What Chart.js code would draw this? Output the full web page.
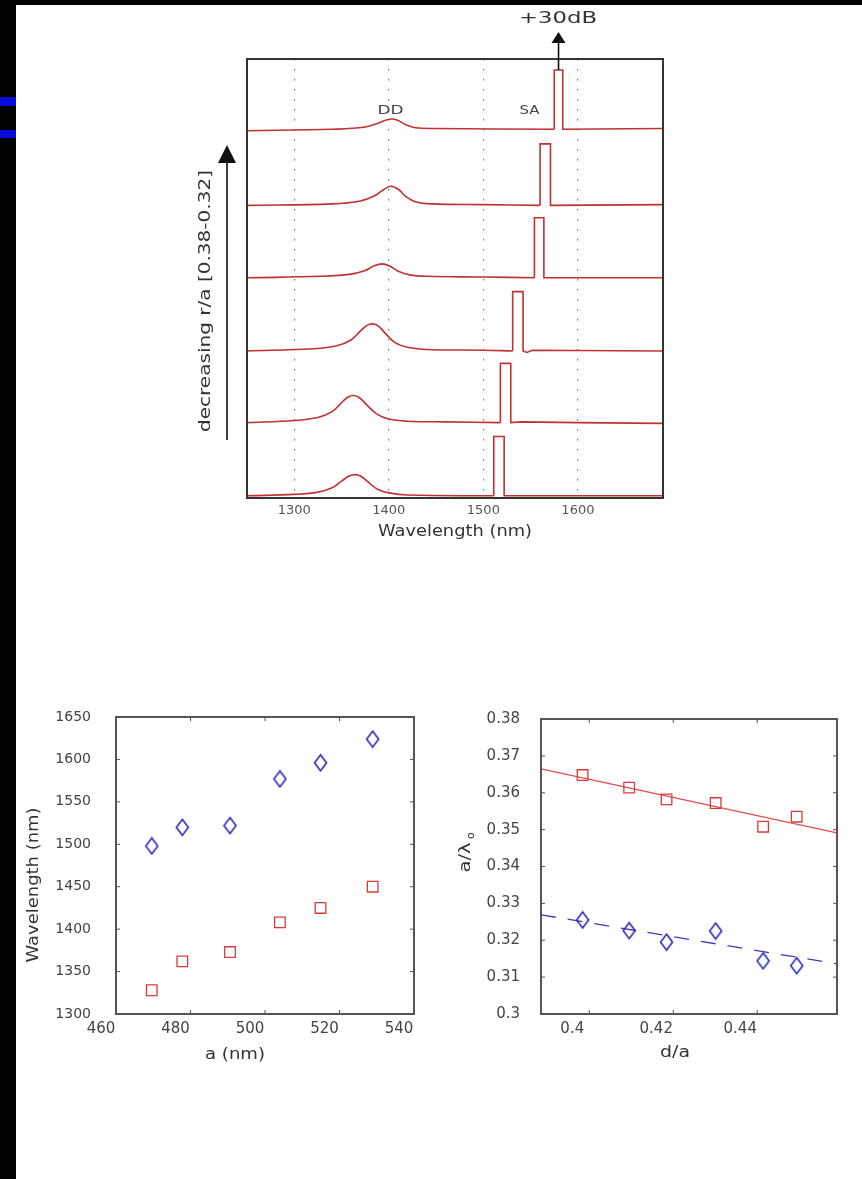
<!DOCTYPE html>
<html>
<head>
<meta charset="utf-8">
<script src="https://cdn.jsdelivr.net/npm/chart.js@4.4.1/dist/chart.umd.min.js"></script>
<style>
body { margin: 0; background: #fff; width: 862px; height: 1179px; overflow: hidden; position: relative; }
canvas { position: absolute; left: 0; top: 0; }
.strip { position: absolute; background: #000; }
.blue { position: absolute; left: 0; width: 16px; background: #0a0ad6; }
</style>
</head>
<body>
<div class="strip" style="left:0;top:0;width:16px;height:1179px"></div>
<div class="strip" style="left:0;top:0;width:862px;height:5px"></div>
<div class="blue" style="top:97px;height:9px"></div>
<div class="blue" style="top:130px;height:8px"></div>
<canvas id="spectra" width="862" height="1179"></canvas>
<canvas id="lattice" width="862" height="1179"></canvas>
<canvas id="norm" width="862" height="1179"></canvas>
<script>
// --- top panel: transmission spectra, bottom (r/a = 0.38) to top (r/a = 0.32)
// each trace: [wavelength nm, intensity above its own baseline]
var traceOffsets = [0.03, 1.03, 2.01, 3.01, 4.0, 5.04];
var spectra = [
  [[1250,0],[1300,0.02],[1325,0.05],[1340,0.11],[1350,0.2],[1358,0.27],[1364,0.29],[1370,0.27],[1378,0.19],[1388,0.09],[1400,0.04],[1420,0.01],[1511,0],[1511,0.81],[1522,0.81],[1522,0],[1600,0],[1690,0]],
  [[1250,0],[1300,0.03],[1325,0.07],[1340,0.15],[1349,0.26],[1357,0.35],[1363,0.37],[1369,0.34],[1377,0.24],[1387,0.12],[1400,0.05],[1420,0.02],[1460,0.01],[1518,0],[1518,0.81],[1529,0.81],[1529,0],[1540,0.01],[1600,0],[1690,-0.01]],
  [[1250,0],[1320,0.03],[1345,0.07],[1360,0.15],[1369,0.26],[1377,0.35],[1383,0.37],[1389,0.34],[1397,0.23],[1407,0.11],[1420,0.05],[1440,0.02],[1500,0.01],[1531,0],[1531,0.81],[1542,0.81],[1542,0],[1546,-0.02],[1552,0.01],[1690,0]],
  [[1250,0],[1330,0.02],[1360,0.05],[1375,0.1],[1384,0.16],[1393,0.19],[1401,0.16],[1410,0.09],[1422,0.04],[1440,0.02],[1500,0.01],[1554,0],[1554,0.82],[1564,0.82],[1564,0],[1690,0]],
  [[1250,0],[1340,0.02],[1370,0.06],[1385,0.13],[1394,0.21],[1402,0.26],[1410,0.22],[1418,0.12],[1428,0.05],[1445,0.02],[1500,0.01],[1560,0],[1560,0.84],[1571,0.84],[1571,0],[1690,0.01]],
  [[1250,-0.02],[1340,0],[1375,0.03],[1390,0.09],[1398,0.13],[1404,0.14],[1410,0.12],[1418,0.06],[1428,0.02],[1450,0.01],[1575,0],[1575,0.81],[1584,0.81],[1584,0],[1690,0.01]]
];
var ddLabelAt = 1404, saLabelAt = 1552, saArrowAt = 1579.5;

// --- bottom left: peak wavelength vs lattice constant
var latticeA = [469.6, 477.8, 490.6, 504.0, 514.9, 528.9];
var saWavelength = [1498, 1520, 1522, 1577, 1596, 1624];
var ddWavelength = [1328, 1362, 1373, 1408, 1425, 1450];

// --- bottom right: normalised frequency vs d/a
var fillRatio = [0.3984, 0.4095, 0.4184, 0.4301, 0.4414, 0.4494];
var ddNorm = [0.3648, 0.3614, 0.3582, 0.3572, 0.3508, 0.3535];
var saNorm = [0.3255, 0.3226, 0.3195, 0.3225, 0.3144, 0.3131];
var fitRatio = [0.3885, 0.459];
var ddFit = [0.3665, 0.3491];
var saFit = [0.3269, 0.3136];

var RED = '#d43c3c', BLUE = '#2828b4', FONT = 'DejaVu Sans';

function txt(ctx, text, x, y, size, width, rot, color) {
  ctx.save();
  ctx.font = size + 'px "' + FONT + '"';
  var sx = width / ctx.measureText(text).width;
  ctx.translate(x, y);
  if (rot) ctx.rotate(rot);
  ctx.scale(sx, 1);
  ctx.fillStyle = color || '#333';
  ctx.textAlign = 'center';
  ctx.textBaseline = 'middle';
  ctx.fillText(text, 0, 0);
  ctx.restore();
}

function arrowUp(ctx, x, yTip, yBase, yEnd, halfW) {
  ctx.save();
  ctx.strokeStyle = '#111'; ctx.fillStyle = '#111'; ctx.lineWidth = 1.6;
  ctx.beginPath(); ctx.moveTo(x, yEnd); ctx.lineTo(x, yBase); ctx.stroke();
  ctx.beginPath(); ctx.moveTo(x, yTip); ctx.lineTo(x + halfW, yBase); ctx.lineTo(x - halfW, yBase); ctx.closePath(); ctx.fill();
  ctx.restore();
}

// box round the plot area, with optional inward ticks
function framePlugin(color, inTicks, extra) {
  return {
    id: 'frame',
    afterDraw: function(chart) {
      var ctx = chart.ctx, a = chart.chartArea;
      ctx.save();
      ctx.strokeStyle = color; ctx.lineWidth = 1;
      if (inTicks) {
        var xs = chart.scales.x, ys = chart.scales.y;
        ctx.beginPath();
        xs.ticks.forEach(function(t) {
          var px = xs.getPixelForValue(t.value);
          if (px <= a.left + 2 || px >= a.right - 2) return;
          ctx.moveTo(px, a.bottom); ctx.lineTo(px, a.bottom - 4);
          ctx.moveTo(px, a.top); ctx.lineTo(px, a.top + 4);
        });
        ys.ticks.forEach(function(t) {
          var py = ys.getPixelForValue(t.value);
          if (py <= a.top + 2 || py >= a.bottom - 2) return;
          ctx.moveTo(a.left, py); ctx.lineTo(a.left + 4, py);
          ctx.moveTo(a.right, py); ctx.lineTo(a.right - 4, py);
        });
        ctx.stroke();
      }
      ctx.lineWidth = 2;
      ctx.strokeRect(a.left, a.top, a.right - a.left, a.bottom - a.top);
      ctx.restore();
      if (extra) extra(chart, ctx);
    }
  };
}

function diamond(color) {
  var c = document.createElement('canvas');
  c.width = 15; c.height = 19;
  var g = c.getContext('2d');
  g.strokeStyle = color; g.lineWidth = 1.6;
  g.beginPath();
  g.moveTo(7.5, 1.5); g.lineTo(13.5, 9.5); g.lineTo(7.5, 17.5); g.lineTo(1.5, 9.5);
  g.closePath(); g.stroke();
  return c;
}

function pts(xs, ys) {
  return xs.map(function(x, i) { return {x: x, y: ys[i]}; });
}

function plain(v) { return String(+v.toFixed(3)); }

var noUi = {legend: {display: false}, tooltip: {enabled: false}};

// each spectrum: smooth part (DD band) with tension, then the sharp SA box
var specSets = [];
spectra.forEach(function(tr, k) {
  var cut = 0;
  for (var i = 0; i < tr.length - 1; i++) { if (tr[i][0] === tr[i + 1][0]) { cut = i; break; } }
  var toXY = function(p) { return {x: p[0], y: p[1] + traceOffsets[k]}; };
  specSets.push({data: tr.slice(0, cut + 1).map(toXY), tension: 0.4});
  specSets.push({data: tr.slice(cut).map(toXY), tension: 0});
});

// ---------- top panel
new Chart(document.getElementById('spectra'), {
  type: 'scatter',
  data: {
    datasets: specSets.map(function(s) {
      return {data: s.data, tension: s.tension, showLine: true, pointRadius: 0,
              borderColor: '#c03232', borderWidth: 1.6};
    })
  },
  options: {
    responsive: false, animation: false,
    layout: {padding: {left: 247, right: 199, top: 59, bottom: 619}},
    plugins: noUi,
    scales: {
      x: {
        type: 'linear', min: 1250, max: 1690,
        ticks: {stepSize: 100, includeBounds: false, color: '#555', font: {family: FONT, size: 13}, padding: 5,
                callback: plain},
        grid: {color: '#777', lineWidth: 1.2, drawTicks: false},
        border: {display: false, dash: [1.5, 8.5]},
        afterFit: function(s) { s.height = 62; }
      },
      y: {display: false, min: 0, max: 6}
    }
  },
  plugins: [framePlugin('#333', false, function(chart, ctx) {
    var xs = chart.scales.x, ys = chart.scales.y;
    txt(ctx, 'Wavelength (nm)', 455, 532, 15, 154, 0, '#333');
    txt(ctx, 'DD', xs.getPixelForValue(ddLabelAt) - 2, 111, 13, 26, 0, '#444');
    txt(ctx, 'SA', xs.getPixelForValue(saLabelAt) - 3, 111, 13, 20, 0, '#444');
    var sx = xs.getPixelForValue(saArrowAt);
    var top = spectra[5][11][1] + traceOffsets[5];
    arrowUp(ctx, sx, 32, 43, ys.getPixelForValue(top), 7);
    txt(ctx, '+30dB', 558, 19, 16, 78, 0, '#333');
    arrowUp(ctx, 227, 145, 163, 440, 9);
    txt(ctx, 'decreasing r/a [0.38-0.32]', 206, 301, 15, 262, -Math.PI / 2, '#333');
  })]
});

// ---------- bottom left
new Chart(document.getElementById('lattice'), {
  type: 'scatter',
  data: {
    datasets: [
      {data: pts(latticeA, saWavelength), pointStyle: diamond(BLUE), pointRadius: 8},
      {data: pts(latticeA, ddWavelength), pointStyle: 'rect', pointRadius: 7.5,
       borderColor: RED, borderWidth: 1.3, backgroundColor: 'rgba(0,0,0,0)'}
    ]
  },
  options: {
    responsive: false, animation: false,
    layout: {padding: {left: 16, right: 448, top: 717, bottom: 89}},
    plugins: noUi,
    scales: {
      x: {
        type: 'linear', min: 460, max: 540,
        ticks: {stepSize: 20, color: '#444', font: {family: FONT, size: 15}, padding: 6, labelOffset: -15, callback: plain},
        grid: {display: false, drawTicks: false}, border: {display: false},
        afterFit: function(s) { s.height = 76; }
      },
      y: {
        min: 1300, max: 1650,
        ticks: {stepSize: 50, color: '#444', font: {family: FONT, size: 14}, padding: 25, callback: plain},
        grid: {display: false, drawTicks: false}, border: {display: false},
        afterFit: function(s) { s.width = 100; }
      }
    }
  },
  plugins: [framePlugin('#555', true, function(chart, ctx) {
    txt(ctx, 'a (nm)', 235, 1055, 15, 60, 0, '#333');
    txt(ctx, 'Wavelength (nm)', 34, 885, 15, 155, -Math.PI / 2, '#333');
  })]
});

// ---------- bottom right
new Chart(document.getElementById('norm'), {
  type: 'scatter',
  data: {
    datasets: [
      {data: pts(fillRatio, ddNorm), pointStyle: 'rect', pointRadius: 7.5,
       borderColor: RED, borderWidth: 1.3, backgroundColor: 'rgba(0,0,0,0)'},
      {data: pts(fillRatio, saNorm), pointStyle: diamond(BLUE), pointRadius: 8},
      {data: pts(fitRatio, ddFit), showLine: true, pointRadius: 0, borderColor: '#e04c4c', borderWidth: 1.2},
      {data: pts(fitRatio, saFit), showLine: true, pointRadius: 0, borderColor: '#3c3cc0', borderWidth: 1.3, borderDash: [15, 12]}
    ]
  },
  options: {
    responsive: false, animation: false,
    layout: {padding: {left: 441, right: 25, top: 719, bottom: 89}},
    plugins: noUi,
    scales: {
      x: {
        type: 'linear', min: 0.3885, max: 0.459,
        ticks: {stepSize: 0.02, includeBounds: false, color: '#444', font: {family: FONT, size: 15}, padding: 6, labelOffset: -17,
                callback: plain},
        grid: {display: false, drawTicks: false}, border: {display: false},
        afterFit: function(s) { s.height = 76; }
      },
      y: {
        min: 0.3, max: 0.38,
        ticks: {stepSize: 0.01, color: '#444', font: {family: FONT, size: 15}, padding: 21, callback: plain},
        grid: {display: false, drawTicks: false}, border: {display: false},
        afterFit: function(s) { s.width = 100; }
      }
    }
  },
  plugins: [framePlugin('#555', true, function(chart, ctx) {
    txt(ctx, 'd/a', 675, 1053, 15, 30, 0, '#333');
    // a/λ with subscript o, rotated
    ctx.save();
    ctx.translate(466, 851);
    ctx.rotate(-Math.PI / 2);
    ctx.fillStyle = '#333';
    ctx.textBaseline = 'middle';
    ctx.font = '15px "' + FONT + '"';
    var w = ctx.measureText('a/λ').width;
    ctx.save(); ctx.translate(-21.5, 0); ctx.scale(30 / w, 1); ctx.fillText('a/λ', 0, 0); ctx.restore();
    ctx.font = '11px "' + FONT + '"';
    ctx.fillText('o', 12, 5);
    ctx.restore();
  })]
});
</script>
</body>
</html>
